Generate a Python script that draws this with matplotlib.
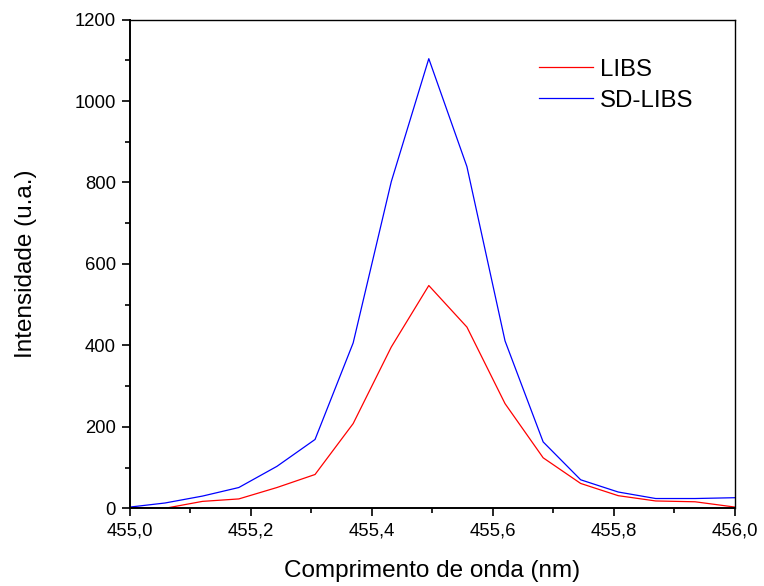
import matplotlib
matplotlib.use("Agg")
import matplotlib.pyplot as plt
from matplotlib.ticker import MultipleLocator, FuncFormatter

plt.rcParams['font.family'] = ['Liberation Sans', 'DejaVu Sans']

# comprimento de onda (nm)
wl = [455.0, 455.058, 455.12, 455.18, 455.243, 455.306, 455.369, 455.432, 455.494,
      455.557, 455.62, 455.683, 455.745, 455.807, 455.869, 455.934, 456.0]
libs = [2, 0, 17, 23, 51, 83, 208, 396, 547, 445, 257, 124, 61, 31, 18, 16, 3]
sd_libs = [3, 13, 30, 51, 103, 169, 406, 802, 1104, 839, 411, 163, 70, 40, 24, 24, 26]

fig = plt.figure(figsize=(7.64, 5.86), dpi=100)
ax = fig.add_axes([0.170, 0.1326, 0.792, 0.834])

ax.plot(wl, libs, color='#ff0000', lw=0.9, label='LIBS')
ax.plot(wl, sd_libs, color='#0000ff', lw=0.9, label='SD-LIBS')

ax.set_xlim(455.0, 456.0)
ax.set_ylim(0, 1200)
ax.xaxis.set_major_locator(MultipleLocator(0.2))
ax.xaxis.set_minor_locator(MultipleLocator(0.1))
ax.yaxis.set_major_locator(MultipleLocator(200))
ax.yaxis.set_minor_locator(MultipleLocator(100))
ax.xaxis.set_major_formatter(FuncFormatter(lambda v, p: f"{v:.1f}".replace('.', ',')))

ax.tick_params(which='major', direction='out', length=6, width=1.2, labelsize=13.3, pad=4)
ax.tick_params(which='minor', direction='out', length=3.5, width=1.2)
ax.tick_params(top=False, right=False)
for side in ['left', 'bottom']:
    ax.spines[side].set_linewidth(1.4)
for side in ['top', 'right']:
    ax.spines[side].set_linewidth(1.0)

ax.set_xlabel('Comprimento de onda (nm)', fontsize=17.5, labelpad=15)
ax.set_ylabel('Intensidade (u.a.)', fontsize=17.5, labelpad=27)

ax.legend(loc='upper left', bbox_to_anchor=(0.64, 0.964), frameon=False,
          fontsize=17.3, handlelength=2.25, handletextpad=0.3, labelspacing=0.37)

fig.savefig('out.png', dpi=100)
